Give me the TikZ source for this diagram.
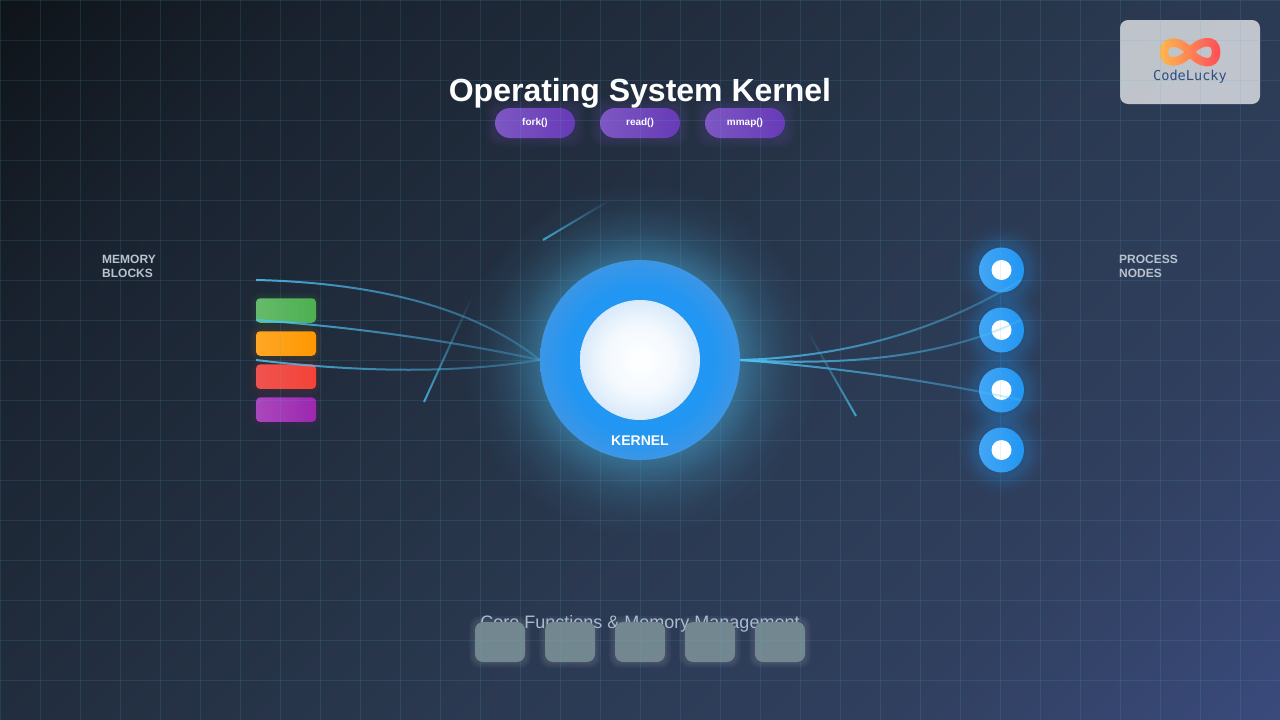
\documentclass[tikz,border=0pt]{standalone}
\usepackage{fontspec}
\setmainfont{Liberation Sans}
\newfontfamily\logofont{DejaVu Sans Mono}
\usetikzlibrary{fadings}
\definecolor{bgdark}{HTML}{0F1419}
\definecolor{bgdusk}{HTML}{1A2330}
\definecolor{bgslate}{HTML}{222E3F}
\definecolor{bgmid}{HTML}{2B3A52}
\definecolor{bgnavy}{HTML}{303F5E}
\definecolor{bgblue}{HTML}{3A4A7C}
\definecolor{gridteal}{HTML}{4FB4D8}
\definecolor{kernblue}{HTML}{2196F3}
\definecolor{kernedge}{HTML}{3C96E6}
\definecolor{coreedge}{HTML}{D9EAFA}
\definecolor{corehalf}{HTML}{F4F9FE}
\definecolor{linkcyan}{HTML}{4FC3F7}
\definecolor{labelgrey}{HTML}{B8C4CE}
\definecolor{footgrey}{HTML}{A9BCCF}
\definecolor{pilllight}{HTML}{7E57C2}
\definecolor{pilldark}{HTML}{673AB7}
\definecolor{tilegrey}{HTML}{72878F}
\definecolor{logoorange}{HTML}{FFB84D}
\definecolor{logored}{HTML}{FF4D5A}
\definecolor{logoink}{HTML}{2F4F7F}
\definecolor{greenlight}{HTML}{66BB6A}
\definecolor{greendark}{HTML}{4CAF50}
\definecolor{orangelight}{HTML}{FFA726}
\definecolor{orangedark}{HTML}{FF9800}
\definecolor{redlight}{HTML}{EF5350}
\definecolor{reddark}{HTML}{F44336}
\definecolor{purplelight}{HTML}{AB47BC}
\definecolor{purpledark}{HTML}{9C27B0}
\pgfdeclarehorizontalshading{bggrad}{100bp}{color(0bp)=(bgdark); color(25bp)=(bgdark); color(34bp)=(bgdusk); color(43.5bp)=(bgslate); color(55bp)=(bgmid); color(65bp)=(bgnavy); color(75bp)=(bgblue); color(100bp)=(bgblue)}
\pgfdeclareradialshading{kernfill}{\pgfpointorigin}{color(0bp)=(kernblue); color(18bp)=(kernblue); color(25bp)=(kernedge); color(50bp)=(kernedge)}
\pgfdeclareradialshading{corefill}{\pgfpointorigin}{color(0bp)=(white); color(14bp)=(corehalf); color(25bp)=(coreedge); color(50bp)=(coreedge)}
\pgfdeclareradialshading{kernglowshade}{\pgfpointorigin}{color(0bp)=(pgftransparent!62); color(14bp)=(pgftransparent!62); color(18bp)=(pgftransparent!84); color(21.5bp)=(pgftransparent!95); color(25bp)=(pgftransparent!100); color(50bp)=(pgftransparent!100)}
\pgfdeclarefading{kernglow}{\pgfuseshading{kernglowshade}}
\tikzfading[name=linkfade, left color=transparent!15, right color=transparent!75]
\pgfdeclarelayer{backdrop}
\pgfdeclarelayer{glowlayer}
\pgfdeclarelayer{gridlayer}
\pgfdeclarelayer{toplayer}
\pgfsetlayers{backdrop,glowlayer,main,gridlayer,toplayer}
\tikzset{
  memblock/.style={rectangle, rounded corners=4, minimum width=60pt, minimum height=24.5pt, inner sep=0pt},
  pill/.style={rectangle, rounded corners=15, minimum width=80pt, minimum height=30pt, inner sep=0pt,
    left color=pilllight, right color=pilldark, text=white, font=\bfseries\fontsize{10}{12}\selectfont},
  procnode/.style={circle, minimum size=45pt, inner sep=0pt, left color=kernblue!85!white, right color=kernblue},
  procdot/.style={circle, minimum size=20pt, inner sep=0pt, fill=white},
  tile/.style={rectangle, rounded corners=8, minimum width=50pt, minimum height=40pt, inner sep=0pt, fill=tilegrey},
  sidelabel/.style={align=left, anchor=north west, inner sep=0pt, text=labelgrey, font=\bfseries\fontsize{12}{14}\selectfont},
  link/.style={linkcyan, line width=2pt, path fading=linkfade},
  spark/.style={linkcyan!85!black, line width=2pt, path fading=north}
}
% soft halo round a named node
\newcommand{\halo}[3]{
  \foreach \g in {2,4,...,#3}
    \fill[#2, opacity=0.035, rounded corners=6+\g]
      ([xshift=-\g pt,yshift=-\g pt]#1.south west) rectangle ([xshift=\g pt,yshift=\g pt]#1.north east);
}
\begin{document}
\begin{tikzpicture}[x=1pt,y=-1pt]
\useasboundingbox (0,0) rectangle (1280,720);

% Backdrop
\begin{pgfonlayer}{backdrop}
  \begin{scope}
    \clip (0,0) rectangle (1280,720);
    \shade[shading=bggrad, transform canvas={rotate around={-45:(640,360)}}] (-67,-347) rectangle (1347,1067);
  \end{scope}
\end{pgfonlayer}

% Grid overlay
\begin{pgfonlayer}{gridlayer}
  \foreach \gx in {0,40,...,1280}
    \draw[gridteal, opacity=0.14, line width=1pt] (\gx+0.5,0) -- (\gx+0.5,720);
  \foreach \gy in {0,40,...,720}
    \draw[gridteal, opacity=0.14, line width=1pt] (0,\gy+0.5) -- (1280,\gy+0.5);
\end{pgfonlayer}

% Title and system calls
\node[text=white, font=\bfseries\fontsize{32}{38}\selectfont] (title) at (640,93) {Operating System Kernel};
\node[pill, text depth=2pt] (fork) at (535,123) {fork()};
\node[pill, text depth=2pt] (read) at (640,123) {read()};
\node[pill, text depth=2pt] (mmap) at (745,123) {mmap()};
\begin{pgfonlayer}{glowlayer}
  \halo{fork}{pilllight}{10}
  \halo{read}{pilllight}{10}
  \halo{mmap}{pilllight}{10}
\end{pgfonlayer}

% Memory blocks
\node[sidelabel] (memlabel) at (102,252.5) {\rule{0pt}{11pt}MEMORY\\BLOCKS};
\node[memblock, left color=greenlight, right color=greendark] (memgreen) at (286,310.5) {};
\node[memblock, left color=orangelight, right color=orangedark] (memorange) at (286,343.5) {};
\node[memblock, left color=redlight, right color=reddark] (memred) at (286,376.7) {};
\node[memblock, left color=purplelight, right color=purpledark] (mempurple) at (286,409.7) {};
\begin{pgfonlayer}{glowlayer}
  \halo{memgreen}{greendark}{6}
  \halo{memorange}{orangedark}{6}
  \halo{memred}{reddark}{6}
  \halo{mempurple}{purpledark}{6}
\end{pgfonlayer}

% Process nodes
\node[sidelabel] (proclabel) at (1119,252.5) {\rule{0pt}{11pt}PROCESS\\NODES};
\foreach \pname/\py in {procA/270,procB/330,procC/390,procD/450} {
  \node[procnode] (\pname) at (1001.5,\py) {};
  \node[procdot] (\pname dot) at (\pname) {};
  \begin{pgfonlayer}{glowlayer}
    \fill[kernblue, opacity=0.6, path fading=kernglow] (\pname) circle (48);
  \end{pgfonlayer}
}

% Kernel
\begin{pgfonlayer}{glowlayer}
  \fill[linkcyan, path fading=kernglow] (640,360) circle (178);
\end{pgfonlayer}
\begin{pgfonlayer}{toplayer}
  \node[circle, minimum size=200pt, inner sep=0pt, shading=kernfill] (kernel) at (640,360) {};
  \node[circle, minimum size=120pt, inner sep=0pt, shading=corefill] (core) at (640,360) {};
  \node[text=white, font=\bfseries\fontsize{14}{16}\selectfont] (kernlabel) at (640,441) {KERNEL};
\end{pgfonlayer}

% Links
\coordinate (memA) at (256,280);
\coordinate (memB) at (256,320);
\coordinate (memC) at (256,360);
\coordinate (endA) at (1021,280);
\coordinate (endB) at (1021,320);
\coordinate (endC) at (1021,400);
\draw[link] (memA) .. controls (382,283) and (477,310) .. (kernel.west);
\draw[link] (memB) .. controls (352,327) and (447,340) .. (kernel.west);
\draw[link] (memC) .. controls (365,373) and (460,373) .. (kernel.west);
\draw[link] (kernel.east) .. controls (847,357) and (940,330) .. (endA);
\draw[link] (kernel.east) .. controls (860,367) and (953,353) .. (endB);
\draw[link] (kernel.east) .. controls (833,367) and (927,380) .. (endC);

% Loose sparks
\coordinate (sparkAa) at (543,240);
\coordinate (sparkAb) at (610,200);
\coordinate (sparkBa) at (424,402);
\coordinate (sparkBb) at (472,297);
\coordinate (sparkCa) at (856,416);
\coordinate (sparkCb) at (808,332);
\draw[spark] (sparkAa) -- (sparkAb);
\draw[spark] (sparkBa) -- (sparkBb);
\draw[spark] (sparkCa) -- (sparkCb);

% Footer with tiles
\node[text=footgrey, font=\fontsize{18}{20}\selectfont] (footer) at (640,624) {Core Functions \& Memory Management};
\foreach \tname/\tx in {tileA/500,tileB/570,tileC/640,tileD/710,tileE/780} {
  \node[tile] (\tname) at (\tx,642) {};
  \begin{pgfonlayer}{glowlayer}
    \halo{\tname}{white}{6}
  \end{pgfonlayer}
}

% Logo
\node[rectangle, rounded corners=8, minimum width=140pt, minimum height=84pt, inner sep=0pt, fill=white, fill opacity=0.7] (logobox) at (1190,62) {};
\draw[logoorange, line width=8.5pt] (1190,52) .. controls (1197,42) and (1216,36) .. (1216,52) .. controls (1216,68) and (1198,63) .. (1190,52) .. controls (1182,41) and (1164,38) .. (1164,52) .. controls (1164,66) and (1182,63) .. (1190,52) -- cycle;
\draw[logored, line width=8.5pt, path fading=west] (1190,52) .. controls (1197,42) and (1216,36) .. (1216,52) .. controls (1216,68) and (1198,63) .. (1190,52) .. controls (1182,41) and (1164,38) .. (1164,52) .. controls (1164,66) and (1182,63) .. (1190,52) -- cycle;
\node[text=logoink, font=\logofont\fontsize{13.6}{15}\selectfont] (logotext) at (1190,77) {CodeLucky};

\end{tikzpicture}
\end{document}
